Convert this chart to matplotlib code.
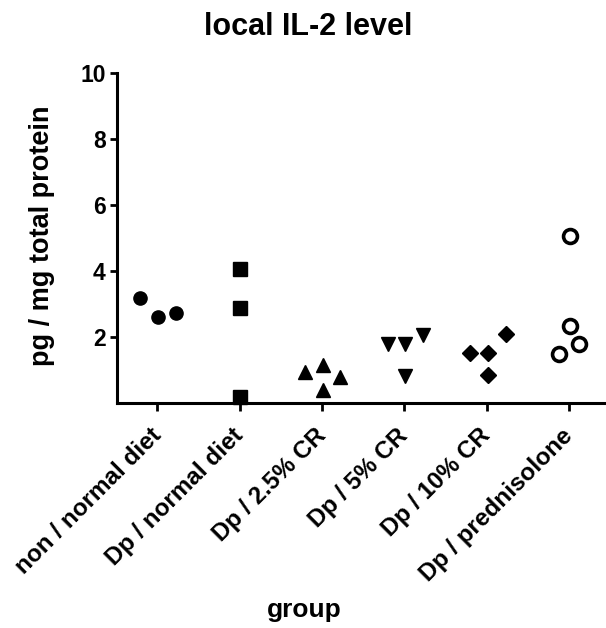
"""
Local IL-2 level per treatment group (scatter of individual animals).
"""
import matplotlib
matplotlib.use("Agg")
import matplotlib.pyplot as plt
from matplotlib.transforms import ScaledTranslation

plt.rcParams["font.family"] = ["Liberation Sans", "DejaVu Sans"]
plt.rcParams["font.weight"] = "bold"

# ── data ────────────────────────────────────────────────────────────
groups = ["non / normal diet", "Dp / normal diet", "Dp / 2.5% CR",
          "Dp / 5% CR", "Dp / 10% CR", "Dp / prednisolone"]

il2_non_normal = [3.18, 2.6, 2.73]
il2_dp_normal = [4.05, 2.87, 0.18]
il2_dp_cr25 = [0.95, 1.15, 0.8, 0.4]
il2_dp_cr5 = [1.79, 1.79, 2.06, 0.82]
il2_dp_cr10 = [1.53, 1.53, 0.85, 2.09]
il2_dp_pred = [5.05, 2.35, 1.5, 1.78]

# horizontal jitter (in category units) as drawn by the original program
jit_non_normal = [-0.21, 0.01, 0.23]
jit_dp_normal = [0.0, 0.0, 0.0]
jit_dp_cr25 = [-0.21, 0.01, 0.22, 0.01]
jit_dp_cr5 = [-0.2, 0.01, 0.23, 0.01]
jit_dp_cr10 = [-0.2, 0.02, 0.02, 0.23]
jit_dp_pred = [0.01, 0.01, -0.12, 0.12]

series = [
    (il2_non_normal, jit_non_normal, "o", "black", 9.5),
    (il2_dp_normal, jit_dp_normal, "s", "black", 9.5),
    (il2_dp_cr25, jit_dp_cr25, "^", "black", 10.5),
    (il2_dp_cr5, jit_dp_cr5, "v", "black", 10.5),
    (il2_dp_cr10, jit_dp_cr10, "D", "black", 8.5),
    (il2_dp_pred, jit_dp_pred, "o", "white", 10),
]

# ── plot ────────────────────────────────────────────────────────────
fig = plt.figure(figsize=(6.06, 6.28), dpi=100)
ax = fig.add_axes([0.193, 0.358, 0.807, 0.526])

for i, (vals, jit, marker, face, size) in enumerate(series):
    xs = [i + j for j in jit]
    ax.plot(xs, vals, linestyle="none", marker=marker, markersize=size,
            markerfacecolor=face, markeredgecolor="black",
            markeredgewidth=2.6 if face == "white" else 1, clip_on=False)

ax.set_xlim(-0.49, 5.45)
ax.set_ylim(0, 10)
ax.set_yticks([2, 4, 6, 8, 10])
ax.set_xticks(range(len(groups)))
ax.set_xticklabels(groups, rotation=45, ha="right", rotation_mode="anchor",
                   fontsize=17.5, fontweight="bold")
ax.tick_params(axis="y", labelsize=16.5, width=2, length=5, pad=3)
ax.tick_params(axis="x", width=2, length=6, pad=9)

# nudge rotated labels so their ends sit on the ticks
shift = ScaledTranslation(-8 / 100, 0, fig.dpi_scale_trans)
for lab in ax.get_xticklabels():
    lab.set_transform(lab.get_transform() + shift)

for side in ["top", "right"]:
    ax.spines[side].set_visible(False)
for side in ["left", "bottom"]:
    ax.spines[side].set_linewidth(2.2)

fig.text(0.508, 0.957, "local IL-2 level", ha="center", va="center",
         fontsize=22, fontweight="bold")
fig.text(0.069, 0.624, "pg / mg total protein", rotation=90, ha="center",
         va="center", fontsize=19.5, fontweight="bold")
fig.text(0.502, 0.028, "group", ha="center", va="center",
         fontsize=19, fontweight="bold")

fig.savefig("out.png", dpi=100)
